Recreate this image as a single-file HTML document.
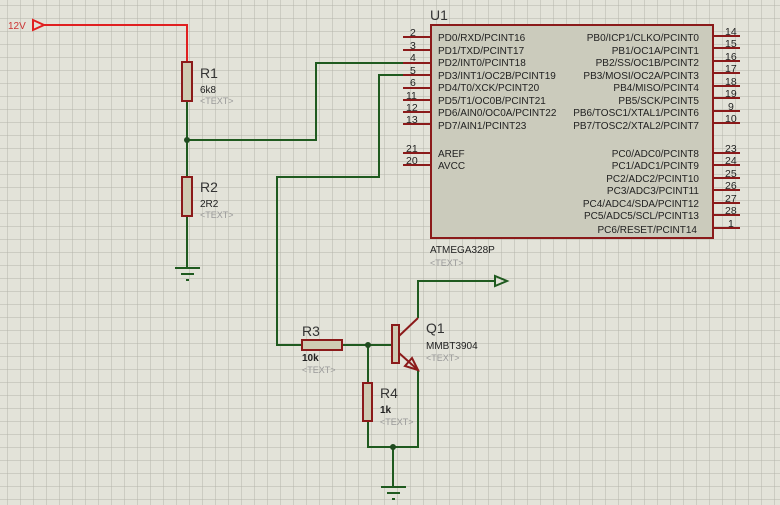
<!DOCTYPE html>
<html><head><meta charset="utf-8"><style>
body{margin:0;width:780px;height:505px;overflow:hidden;background:#e3e3d9}
svg{display:block}
text{font-family:"Liberation Sans",sans-serif;fill:#222}
.p{font-size:10px}
.n{font-size:10.5px}
.t{font-size:9px;fill:#999}
.l{font-size:14px;fill:#333}
.v{font-size:10px}
</style></head><body>
<svg width="780" height="505" xmlns="http://www.w3.org/2000/svg">
<defs><pattern id="g" x="7" y="5" width="13" height="13" patternUnits="userSpaceOnUse">
<path d="M0 0H13M0 0V13" stroke="#b5b5aa" stroke-width="1" fill="none"/></pattern></defs>
<rect width="780" height="505" fill="#e3e3d9"/>
<rect width="780" height="505" fill="url(#g)"/>

<!-- 12V -->
<text x="8" y="29" class="v" fill="#c33" style="fill:#c33">12V</text>
<polygon points="33,20 33,30 44,25" fill="none" stroke="#e02020" stroke-width="2"/>
<polyline points="44,25 187,25 187,62" fill="none" stroke="#e02020" stroke-width="2"/>

<!-- green wires -->
<g fill="none" stroke="#1f5a1f" stroke-width="2">
<polyline points="187,101 187,177"/>
<polyline points="187,216 187,267"/>
<polyline points="187,140 316,140 316,63 412,63"/>
<polyline points="412,75 379,75 379,177 277,177 277,345 302,345"/>
<polyline points="342,345 392,345"/>
<polyline points="368,345 368,383"/>
<polyline points="368,421 368,447 418,447 418,370"/>
<polyline points="393,447 393,487"/>
<polyline points="418,318 418,281 495,281"/>
<polygon points="495,276 495,286 507,281"/>
</g>
<g fill="#1f4a1f"><circle cx="187" cy="140" r="3"/><circle cx="368" cy="345" r="3"/><circle cx="393" cy="447" r="3"/></g>

<!-- grounds -->
<g stroke="#1f5a1f" stroke-width="2">
<line x1="175" y1="268" x2="200" y2="268"/><line x1="181" y1="274" x2="194" y2="274"/><line x1="186" y1="280" x2="189" y2="280"/>
<line x1="381" y1="487" x2="406" y2="487"/><line x1="387" y1="493" x2="400" y2="493"/><line x1="392" y1="499" x2="395" y2="499"/>
</g>

<!-- resistors -->
<g fill="#cfcbb3" stroke="#8b1a1a" stroke-width="2">
<rect x="182" y="62" width="10" height="39"/>
<rect x="182" y="177" width="10" height="39"/>
<rect x="302" y="340" width="40" height="10"/>
<rect x="363" y="383" width="9" height="38"/>
</g>
<text x="200" y="78" class="l">R1</text><text x="200" y="93" class="v">6k8</text><text x="200" y="104" class="t">&lt;TEXT&gt;</text>
<text x="200" y="192" class="l">R2</text><text x="200" y="207" class="v">2R2</text><text x="200" y="218" class="t">&lt;TEXT&gt;</text>
<text x="302" y="336" class="l">R3</text><text x="302" y="361" class="v" style="font-weight:bold">10k</text><text x="302" y="373" class="t">&lt;TEXT&gt;</text>
<text x="380" y="398" class="l">R4</text><text x="380" y="413" class="v" style="font-weight:bold">1k</text><text x="380" y="425" class="t">&lt;TEXT&gt;</text>

<!-- transistor -->
<rect x="392" y="325" width="7" height="38" fill="#cfcbb3" stroke="#8b1a1a" stroke-width="2"/>
<g stroke="#8b1a1a" stroke-width="2" fill="none">
<line x1="399" y1="336" x2="418" y2="318"/>
<line x1="399" y1="353" x2="418" y2="370"/>
<polygon points="418,370 405,366 412,358"/>
</g>
<text x="426" y="333" class="l">Q1</text><text x="426" y="349" class="v">MMBT3904</text><text x="426" y="361" class="t">&lt;TEXT&gt;</text>

<!-- chip -->
<text x="430" y="20" class="l">U1</text>
<rect x="431" y="25" width="282" height="213" fill="#cbcbbc" stroke="#8b1a1a" stroke-width="2"/>
<g stroke="#8b1a1a" stroke-width="2">
<line x1="403" y1="37" x2="431" y2="37"/><line x1="403" y1="50" x2="431" y2="50"/><line x1="403" y1="63" x2="431" y2="63"/><line x1="403" y1="75" x2="431" y2="75"/>
<line x1="403" y1="88" x2="431" y2="88"/><line x1="403" y1="100" x2="431" y2="100"/><line x1="403" y1="112" x2="431" y2="112"/><line x1="403" y1="124" x2="431" y2="124"/>
<line x1="403" y1="153" x2="431" y2="153"/><line x1="403" y1="165" x2="431" y2="165"/>
<line x1="713" y1="36" x2="740" y2="36"/><line x1="713" y1="48" x2="740" y2="48"/><line x1="713" y1="61" x2="740" y2="61"/><line x1="713" y1="73" x2="740" y2="73"/>
<line x1="713" y1="86" x2="740" y2="86"/><line x1="713" y1="98" x2="740" y2="98"/><line x1="713" y1="111" x2="740" y2="111"/><line x1="713" y1="123" x2="740" y2="123"/>
<line x1="713" y1="153" x2="740" y2="153"/><line x1="713" y1="165" x2="740" y2="165"/><line x1="713" y1="178" x2="740" y2="178"/><line x1="713" y1="190" x2="740" y2="190"/>
<line x1="713" y1="203" x2="740" y2="203"/><line x1="713" y1="215" x2="740" y2="215"/><line x1="713" y1="228" x2="740" y2="228"/>
</g>
<g class="n">
<text x="410" y="36" class="n">2</text><text x="410" y="49" class="n">3</text><text x="410" y="61" class="n">4</text><text x="410" y="74" class="n">5</text>
<text x="410" y="86" class="n">6</text><text x="406" y="99" class="n">11</text><text x="406" y="111" class="n">12</text><text x="406" y="123" class="n">13</text>
<text x="406" y="152" class="n">21</text><text x="406" y="164" class="n">20</text>
<text x="725" y="35" class="n">14</text><text x="725" y="47" class="n">15</text><text x="725" y="60" class="n">16</text><text x="725" y="72" class="n">17</text>
<text x="725" y="85" class="n">18</text><text x="725" y="97" class="n">19</text><text x="728" y="110" class="n">9</text><text x="725" y="122" class="n">10</text>
<text x="725" y="152" class="n">23</text><text x="725" y="164" class="n">24</text><text x="725" y="177" class="n">25</text><text x="725" y="189" class="n">26</text>
<text x="725" y="202" class="n">27</text><text x="725" y="214" class="n">28</text><text x="728" y="227" class="n">1</text>
</g>
<g class="p">
<text x="438" y="41" class="p">PD0/RXD/PCINT16</text><text x="438" y="54" class="p">PD1/TXD/PCINT17</text><text x="438" y="66" class="p">PD2/INT0/PCINT18</text><text x="438" y="79" class="p">PD3/INT1/OC2B/PCINT19</text>
<text x="438" y="91" class="p">PD4/T0/XCK/PCINT20</text><text x="438" y="104" class="p">PD5/T1/OC0B/PCINT21</text><text x="438" y="116" class="p">PD6/AIN0/OC0A/PCINT22</text><text x="438" y="129" class="p">PD7/AIN1/PCINT23</text>
<text x="438" y="157" class="p">AREF</text><text x="438" y="169" class="p">AVCC</text>
</g>
<g class="p" text-anchor="end">
<text x="699" y="41" class="p">PB0/ICP1/CLKO/PCINT0</text><text x="699" y="54" class="p">PB1/OC1A/PCINT1</text><text x="699" y="66" class="p">PB2/SS/OC1B/PCINT2</text><text x="699" y="79" class="p">PB3/MOSI/OC2A/PCINT3</text>
<text x="699" y="91" class="p">PB4/MISO/PCINT4</text><text x="699" y="104" class="p">PB5/SCK/PCINT5</text><text x="699" y="116" class="p">PB6/TOSC1/XTAL1/PCINT6</text><text x="699" y="129" class="p">PB7/TOSC2/XTAL2/PCINT7</text>
<text x="699" y="157" class="p">PC0/ADC0/PCINT8</text><text x="699" y="169" class="p">PC1/ADC1/PCINT9</text><text x="699" y="182" class="p">PC2/ADC2/PCINT10</text><text x="699" y="194" class="p">PC3/ADC3/PCINT11</text>
<text x="699" y="207" class="p">PC4/ADC4/SDA/PCINT12</text><text x="699" y="219" class="p">PC5/ADC5/SCL/PCINT13</text><text x="697" y="233" class="p">PC6/RESET/PCINT14</text>
</g>
<text x="430" y="253" class="v">ATMEGA328P</text><text x="430" y="266" class="t">&lt;TEXT&gt;</text>
</svg>
</body></html>
